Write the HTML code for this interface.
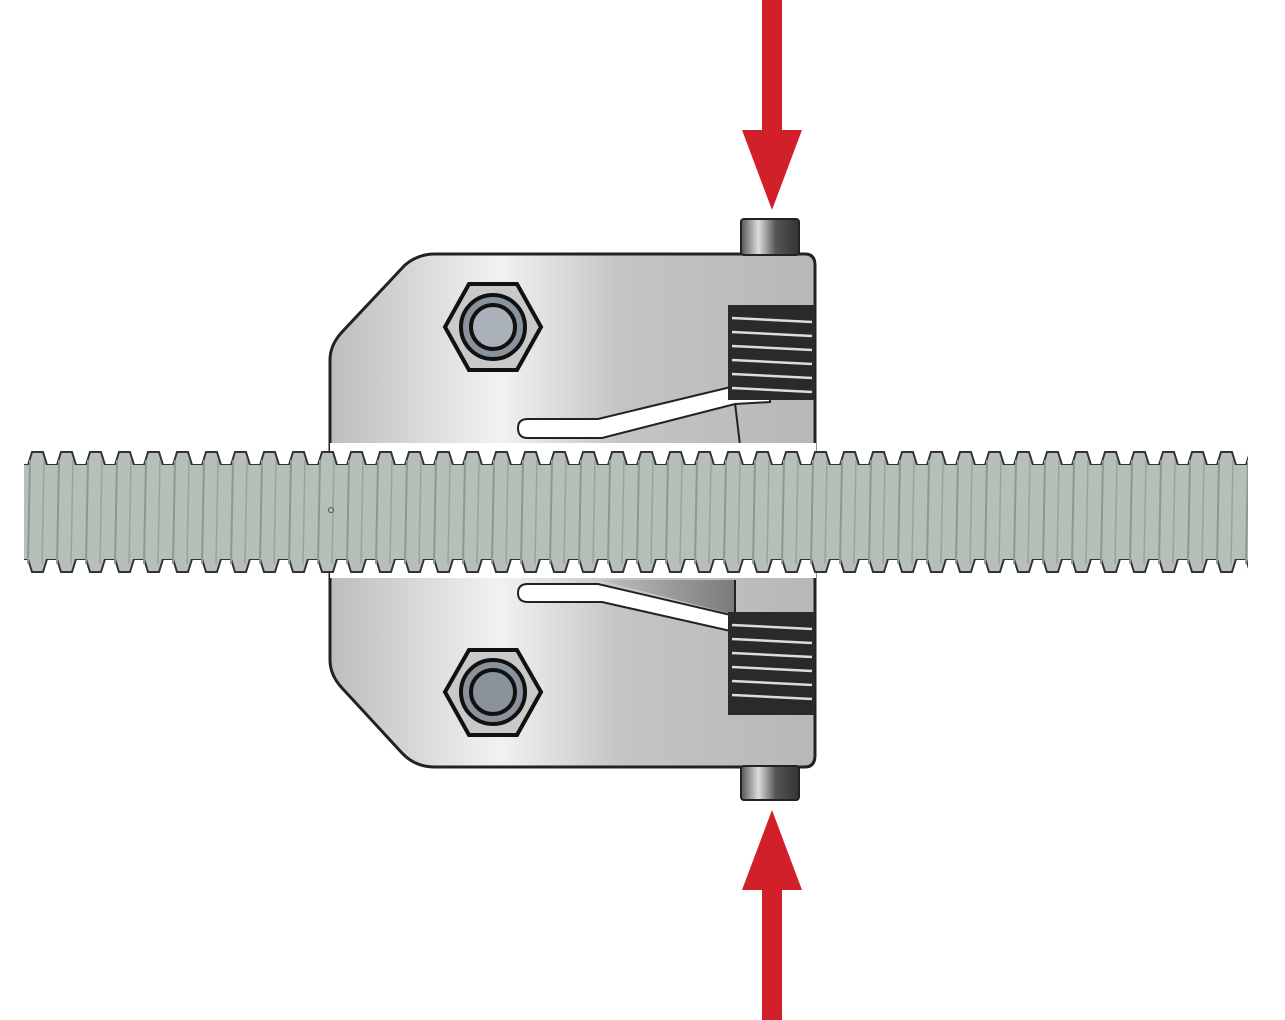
<!DOCTYPE html>
<html><head><style>html,body{margin:0;padding:0;background:#fff}svg{display:block}</style></head>
<body>
<svg width="1285" height="1020" viewBox="0 0 1285 1020" xmlns="http://www.w3.org/2000/svg">
<defs>
<linearGradient id="bg" x1="0" x2="1" y1="0" y2="0">
<stop offset="0" stop-color="#bdbdbd"/><stop offset="0.35" stop-color="#f2f2f2"/><stop offset="0.6" stop-color="#c4c4c4"/><stop offset="1" stop-color="#b8b8b8"/>
</linearGradient>
<linearGradient id="pin" x1="0" x2="1"><stop offset="0" stop-color="#555"/><stop offset="0.3" stop-color="#ddd"/><stop offset="0.6" stop-color="#555"/><stop offset="1" stop-color="#333"/></linearGradient>
<linearGradient id="dk" x1="0" x2="1"><stop offset="0" stop-color="#c0c0c0"/><stop offset="1" stop-color="#7a7a7a"/></linearGradient>
<pattern id="thr" x="24" y="450" width="29" height="124" patternUnits="userSpaceOnUse">
<path d="M0,15 L4,15 L8,2 L19,2 L23,15 L29,15 L29,109 L23,109 L19,122 L8,122 L4,109 L0,109Z" fill="#b6c0b8" stroke="#333" stroke-width="2"/>
<rect x="0" y="15" width="29" height="94" fill="#b6c0b8"/>
<line x1="6" y1="10" x2="4" y2="114" stroke="#8e9890" stroke-width="2"/>
<line x1="20" y1="10" x2="18" y2="114" stroke="#9aa49c" stroke-width="1.5"/>
</pattern>
</defs>
<!-- body -->
<path d="M330,360 Q330,345 342,332 L405,265 Q418,254 435,254 L805,254 Q815,254 815,265 L815,755 Q815,767 805,767 L435,767 Q415,767 402,753 L342,688 Q330,675 330,660 Z" fill="url(#bg)" stroke="#222" stroke-width="3"/>
<!-- lower-region shading -->
<path d="M600,580 L735,580 L735,615 Z" fill="url(#dk)"/>
<line x1="735" y1="403" x2="740" y2="445" stroke="#222" stroke-width="2"/>
<line x1="735" y1="580" x2="735" y2="612" stroke="#222" stroke-width="2"/>
<!-- slots -->
<path d="M528,419 L598,419 L735,386 L770,388 L770,402 L735,404 L602,438 L528,438 Q518,438 518,428 Q518,419 528,419 Z" fill="#fff" stroke="#222" stroke-width="2"/>
<path d="M528,584 L598,584 L735,616 L735,632 L602,602 L528,602 Q518,602 518,593 Q518,584 528,584 Z" fill="#fff" stroke="#222" stroke-width="2"/>
<!-- springs -->
<rect x="728" y="305" width="87" height="95" fill="#2a2a2a"/>
<g stroke="#ddd" stroke-width="2.5">
<line x1="732" y1="318" x2="812" y2="322"/><line x1="732" y1="332" x2="812" y2="336"/><line x1="732" y1="346" x2="812" y2="350"/><line x1="732" y1="360" x2="812" y2="364"/><line x1="732" y1="374" x2="812" y2="378"/><line x1="732" y1="388" x2="812" y2="392"/>
</g>
<rect x="728" y="612" width="87" height="103" fill="#2a2a2a"/>
<g stroke="#ddd" stroke-width="2.5">
<line x1="732" y1="625" x2="812" y2="629"/><line x1="732" y1="639" x2="812" y2="643"/><line x1="732" y1="653" x2="812" y2="657"/><line x1="732" y1="667" x2="812" y2="671"/><line x1="732" y1="681" x2="812" y2="685"/><line x1="732" y1="695" x2="812" y2="699"/>
</g>
<!-- nuts -->
<g stroke="#111" stroke-width="4">
<polygon points="445,327 469,284 517,284 541,327 517,370 469,370" fill="#c9c9c9"/>
<circle cx="493" cy="327" r="32" fill="#8a939b"/><circle cx="493" cy="327" r="22" fill="#aab1b8"/>
<polygon points="445,692 469,650 517,650 541,692 517,735 469,735" fill="#c9c9c9"/>
<circle cx="493" cy="692" r="32" fill="#8a939b"/><circle cx="493" cy="692" r="22" fill="#8a939b"/>
</g>
<!-- pins -->
<rect x="741" y="219" width="58" height="36" rx="3" fill="url(#pin)" stroke="#222" stroke-width="2"/>
<rect x="741" y="766" width="58" height="34" rx="3" fill="url(#pin)" stroke="#222" stroke-width="2"/>
<!-- white band -->
<rect x="330" y="443" width="486" height="135" fill="#fff"/>
<!-- rod -->
<rect x="24" y="450" width="1224" height="124" fill="url(#thr)"/>
<circle cx="331" cy="510" r="2.5" fill="none" stroke="#555"/>
<!-- arrows -->
<g fill="#d2202a">
<rect x="762" y="0" width="20" height="132"/><polygon points="742,130 802,130 772,210"/>
<rect x="762" y="888" width="20" height="132"/><polygon points="742,890 802,890 772,810"/>
</g>
</svg>
</body></html>
